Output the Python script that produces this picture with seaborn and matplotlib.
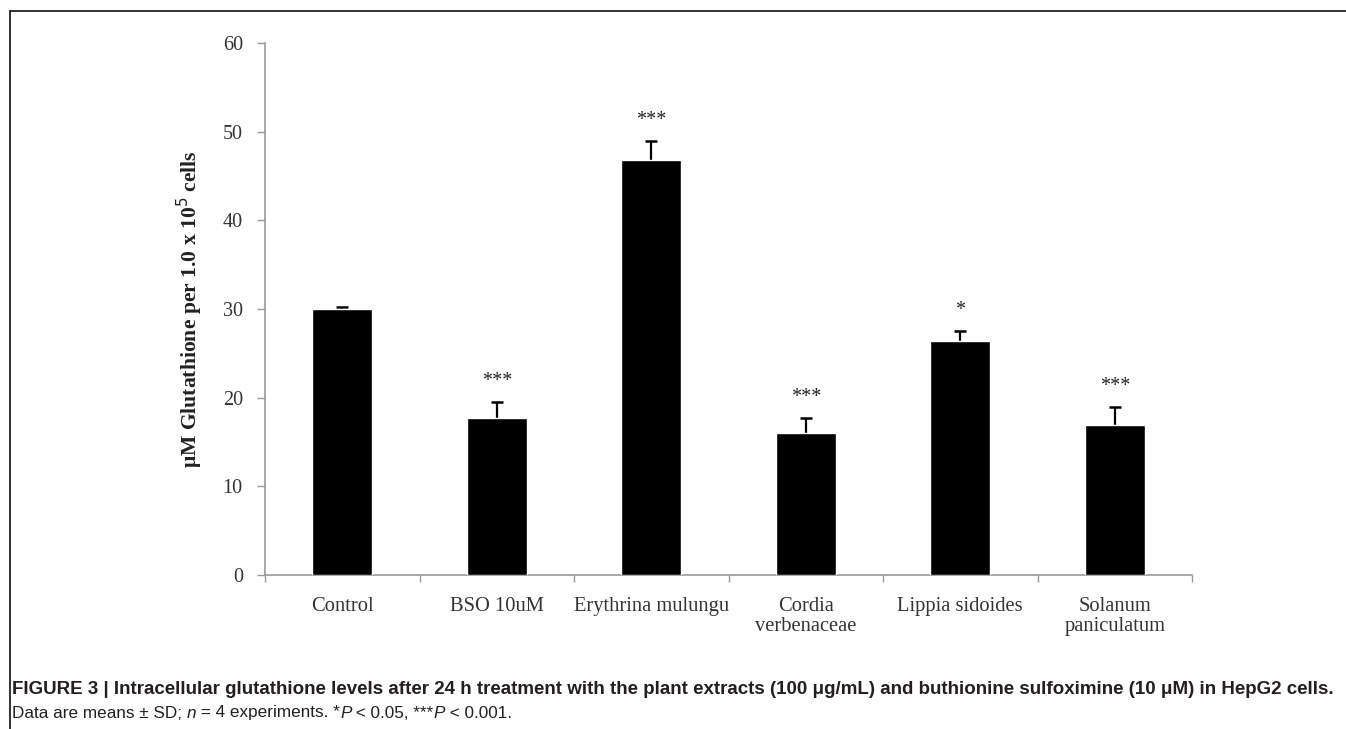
import numpy as np
import pandas as pd
import matplotlib
matplotlib.use('Agg')
from matplotlib import pyplot as plt
from matplotlib.lines import Line2D
import seaborn as sns

# values
groups = ['Control', 'BSO 10uM', 'Erythrina mulungu', 'Cordia\nverbenaceae',
          'Lippia sidoides', 'Solanum\npaniculatum']
means = [30.0, 17.7, 46.8, 16.0, 26.4, 16.9]
sds = [0.2, 1.8, 2.1, 1.7, 1.1, 2.0]
stars = ['', '***', '***', '***', '*', '***']

df = pd.DataFrame({'group': groups, 'mean': means, 'sd': sds})

sns.set_style('white')
serif = ['Liberation Serif', 'DejaVu Serif']
sans = ['Liberation Sans', 'DejaVu Sans']

fig = plt.figure(figsize=(13.46, 7.29), dpi=100)
ax = fig.add_axes([0.1969, 0.2113, 0.6887, 0.7297])

sns.barplot(data=df, x='group', y='mean', color='black', width=0.39,
            errorbar=None, ax=ax, saturation=1, zorder=3)
pos = np.arange(len(groups))
tops = df['mean'] + df['sd']
# upper half of the SD bars only
ax.vlines(pos, df['mean'], tops, color='black', lw=1.6, zorder=2)
ax.hlines(tops, pos - 0.04, pos + 0.04, color='black', lw=1.8, zorder=2)

for x, t, st in zip(pos, tops, stars):
    if st:
        ax.text(x, t + 1.3, st, ha='center', va='bottom', fontsize=14.5,
                family=serif, color='#222222')

ax.set_ylim(0, 60)
ax.set_xlim(-0.5, 5.5)
ax.set_yticks([0, 10, 20, 30, 40, 50, 60])
ax.set_xticks(pos)
ax.set_xticklabels(groups, family=serif, fontsize=14.8, color='#333333',
                   linespacing=1.05)
ax.set_xticks(np.arange(-0.5, 6, 1), minor=True)
for lab in ax.get_yticklabels():
    lab.set_family(serif)
ax.tick_params(axis='y', labelsize=14.5, labelcolor='#333333', length=6,
               width=1, color='#999999', direction='out', left=True, pad=10)
ax.tick_params(axis='x', which='major', length=0, pad=16)
ax.tick_params(axis='x', which='minor', length=5, width=1, color='#999999',
               direction='out', bottom=True)
ax.set_xlabel('')
ax.set_ylabel('μM Glutathione per 1.0 x 10$^{5}$ cells', family=serif,
              fontsize=15.6, fontweight='bold', color='#222222', labelpad=13)
sns.despine(ax=ax)
for side in ['left', 'bottom']:
    ax.spines[side].set_color('#999999')
    ax.spines[side].set_linewidth(1.2)

# frame lines (open to the right and bottom)
fig.add_artist(Line2D([10 / 1346, 10 / 1346], [0, 1 - 11 / 729],
                      color='#222222', lw=1.3, transform=fig.transFigure))
fig.add_artist(Line2D([10 / 1346, 1], [1 - 11 / 729, 1 - 11 / 729],
                      color='#222222', lw=1.3, transform=fig.transFigure))

# caption
fig.text(12 / 1346, 1 - 690 / 729,
         'FIGURE 3 | Intracellular glutathione levels after 24 h treatment with the '
         'plant extracts (100 μg/mL) and buthionine sulfoximine (10 μM) in HepG2 cells.',
         family=sans, fontsize=13.5, fontweight='bold', color='#231f20', va='center')

runs = [('Data are means ± SD; ', 'normal'), ('n', 'italic'),
        (' = 4 experiments. *', 'normal'), ('P', 'italic'),
        (' < 0.05, ***', 'normal'), ('P', 'italic'), (' < 0.001.', 'normal')]
fig.canvas.draw()
renderer = fig.canvas.get_renderer()
xpix = 12
for txt, style in runs:
    t = fig.text(xpix / 1346, 1 - 713 / 729, txt, family=sans, fontsize=12.3,
                 style=style, color='#231f20', va='center')
    bb = t.get_window_extent(renderer=renderer)
    xpix = bb.x1

fig.savefig('out.png', dpi=100)
